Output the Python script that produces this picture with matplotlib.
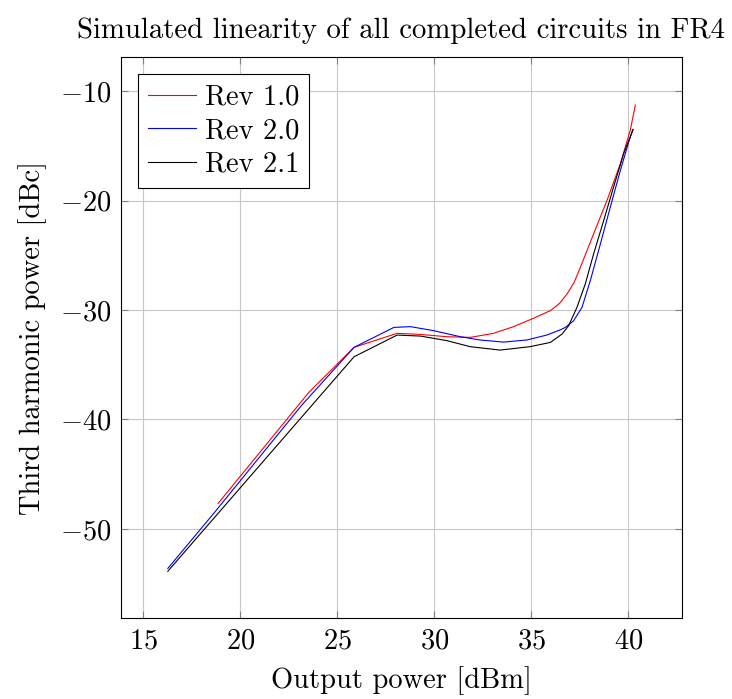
import matplotlib
matplotlib.use("Agg")
import matplotlib.pyplot as plt

# fonts: computer modern look like the LaTeX original
plt.rcParams['font.family'] = 'serif'
plt.rcParams['font.serif'] = ['cmr10']
plt.rcParams['mathtext.fontset'] = 'cm'
plt.rcParams['axes.formatter.use_mathtext'] = True

# -----------------------------
# data
# -----------------------------
rev10_x = [18.85, 23.54, 25.86, 28.08, 29.28, 30.65, 31.85, 33.05, 34.08, 35.05,
           35.98, 36.45, 36.84, 37.2, 37.53, 38.21, 38.9, 39.59, 40.1, 40.36]
rev10_y = [-47.67, -37.5, -33.41, -32.13, -32.23, -32.44, -32.5, -32.13, -31.52,
           -30.8, -30.06, -29.4, -28.53, -27.5, -26.09, -23.04, -19.98, -16.63,
           -13.57, -11.28]

rev20_x = [16.26, 18.66, 23.16, 25.86, 27.91, 28.77, 29.97, 31.34, 32.36, 33.56,
           34.76, 35.79, 36.47, 36.75, 37.18, 37.61, 38.04, 38.56, 39.07, 39.59,
           40.02, 40.24]
rev20_y = [-53.6, -48.5, -38.7, -33.41, -31.59, -31.52, -31.89, -32.44, -32.74,
           -32.93, -32.74, -32.29, -31.83, -31.59, -30.98, -29.76, -27.31, -23.95,
           -20.6, -17.24, -14.64, -13.51]

rev21_x = [16.26, 25.86, 28.08, 29.28, 30.65, 31.85, 33.39, 34.93, 35.98, 36.58,
           36.92, 37.35, 37.78, 38.21, 38.73, 39.24, 39.76, 40.24]
rev21_y = [-53.86, -34.27, -32.29, -32.38, -32.8, -33.35, -33.66, -33.35, -32.96,
           -32.2, -31.44, -29.76, -27.62, -24.87, -21.82, -18.76, -15.71, -13.51]

x_ticks = [15, 20, 25, 30, 35, 40]
y_ticks = [-10, -20, -30, -40, -50]

# -----------------------------
# plot
# -----------------------------
fig = plt.figure(figsize=(7.32, 6.99), dpi=100)
ax = fig.add_axes([120.7 / 732, 1 - 618 / 699, (681.7 - 120.7) / 732, (618 - 57.3) / 699])

ax.plot(rev10_x, rev10_y, color='red', lw=0.8, label='Rev 1.0')
ax.plot(rev20_x, rev20_y, color='blue', lw=0.8, label='Rev 2.0')
ax.plot(rev21_x, rev21_y, color='black', lw=0.8, label='Rev 2.1')

ax.set_xlim(13.83, 42.75)
ax.set_ylim(-58.13, -6.92)
ax.set_xticks(x_ticks)
ax.set_yticks(y_ticks)
ax.grid(True, color='#c8c8c8', lw=0.8)
ax.set_axisbelow(True)
ax.tick_params(direction='in', top=True, right=True, length=5, width=0.8,
               color='#808080', labelsize=20.5, pad=7)
for s in ax.spines.values():
    s.set_linewidth(0.8)

ax.set_xlabel('Output power [dBm]', fontsize=20.5, labelpad=9)
ax.set_ylabel('Third harmonic power [dBc]', fontsize=20.5, labelpad=9)
ax.set_title('Simulated linearity of all completed circuits in FR4', fontsize=20.7, pad=14)

leg = ax.legend(loc='upper left', fontsize=20.5, fancybox=False, framealpha=1,
                edgecolor='black', borderpad=0.35, labelspacing=0.25,
                handlelength=1.7, handletextpad=0.3, borderaxespad=0.6)
leg.get_frame().set_linewidth(0.8)

fig.savefig('out.png', dpi=100)
